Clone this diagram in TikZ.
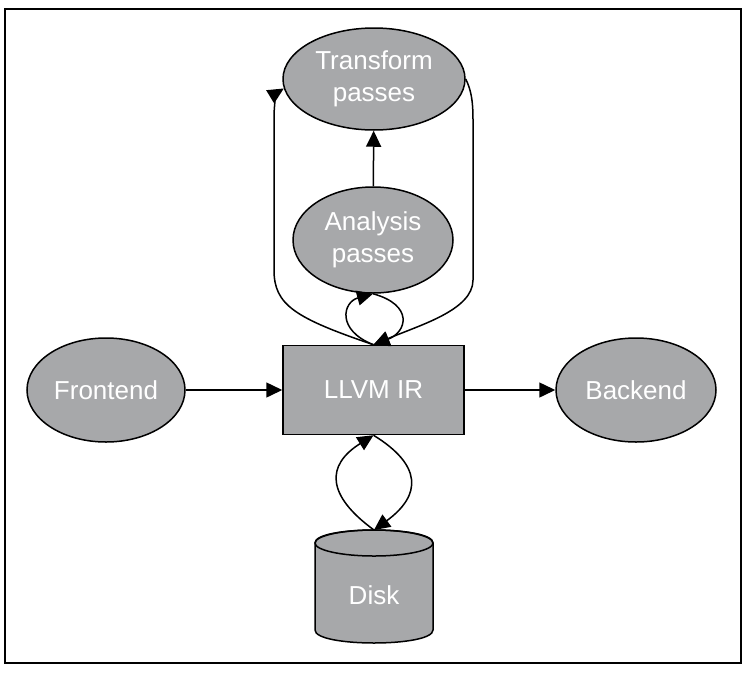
\documentclass[tikz,border=0pt]{standalone}
\usepackage{fontspec}
\setmainfont{Liberation Sans}
\usetikzlibrary{shapes.geometric,arrows.meta}
\definecolor{gr}{HTML}{A7A8AA}
\begin{document}
\begin{tikzpicture}[x=1pt,y=-1pt,
 ell/.style={ellipse,draw,line width=1.5pt,fill=gr,inner sep=0pt,text=white,align=center,font=\fontsize{26}{32}\selectfont},
 box/.style={rectangle,draw,line width=1.5pt,fill=gr,inner sep=0pt,text=white,font=\fontsize{26}{32}\selectfont},
 conn/.style={line width=1.5pt,-{Triangle[length=16pt,width=15pt]}},
 lbl/.style={text=white,font=\fontsize{26}{32}\selectfont},
]
\useasboundingbox (0,0) rectangle (746,672);
\draw[line width=1.5pt] (5,9) rectangle (741,663);

\node[ell,minimum width=182pt,minimum height=102pt] (tp) at (374,79) {Transform\\passes};
\node[ell,minimum width=160pt,minimum height=106pt] (ap) at (373,240) {Analysis\\passes};
\node[box,minimum width=181pt,minimum height=89pt] (ir) at (373.5,390) {LLVM IR};
\node[ell,minimum width=158pt,minimum height=104pt] (fe) at (106,390) {Frontend};
\node[ell,minimum width=160pt,minimum height=104pt] (be) at (636,390) {Backend};

% disk cylinder
\filldraw[line width=1.5pt,fill=gr] (315,543) -- (315,630) .. controls (315,647.33) and (433,647.33) .. (433,630) -- (433,543) .. controls (433,525.67) and (315,525.67) .. (315,543) -- cycle;
\draw[line width=1.5pt] (374,543) ellipse [x radius=59pt, y radius=13pt];
\node[lbl] (disk) at (374,595) {Disk};
\coordinate (disktop) at (374,530);

% straight connectors
\draw[conn] (fe) -- (ir);
\draw[conn] (ir) -- (be);
\draw[conn] (ap) -- (tp);

% small loop IR <-> Analysis
\draw[conn] (ir.north) .. controls (336,330) and (343,302) .. (ap.south);
\draw[conn] (ap.south) .. controls (414,305) and (407,332) .. (ir.north);

% long loop IR -> Transform -> IR
\draw[conn] (ir.north) .. controls (295,318) and (274,305) .. (274,270) -- (274,118) .. controls (274,100) and (278,92) .. (tp.186);
\draw[conn] (tp.east) .. controls (471,90) and (473,100) .. (473,120) -- (473,280) .. controls (473,310) and (420,325) .. (ir.north);

% disk loop
\draw[conn] (disktop) .. controls (326,495) and (326,465) .. (ir.south);
\draw[conn] (ir.south) .. controls (422,465) and (422,495) .. (disktop);
\end{tikzpicture}
\end{document}
